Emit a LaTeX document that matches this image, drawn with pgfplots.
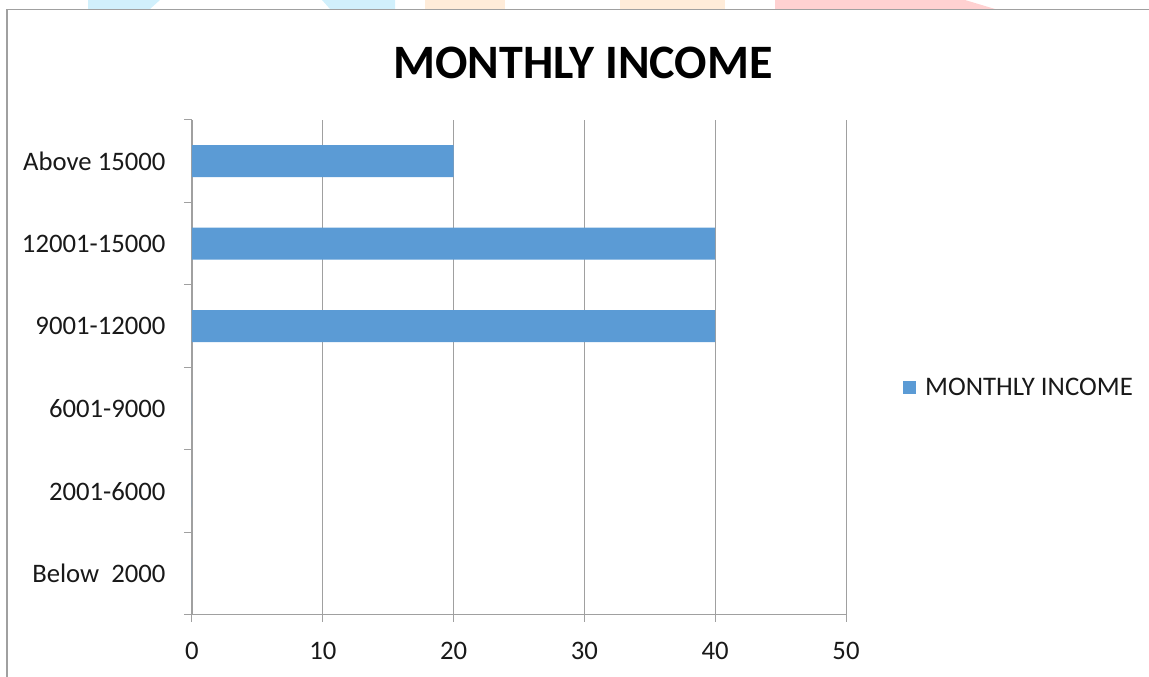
\documentclass[border=0pt]{standalone}
\usepackage{fontspec}
\setmainfont{Carlito}
\usepackage{pgfplots}
\pgfplotsset{compat=1.18}
\definecolor{barblue}{HTML}{5B9BD5}
\definecolor{axgray}{HTML}{A0A0A0}
\begin{document}
\begin{tikzpicture}[x=1pt,y=1pt]
\useasboundingbox (0,0) rectangle (1149,677);
% faint decorative shapes above the frame
\fill[cyan!18] (88,668) -- (150,668) -- (160,677) -- (88,677) -- cycle;
\fill[cyan!18] (330,668) -- (395,668) -- (395,677) -- (322,677) -- cycle;
\fill[orange!15] (425,668) -- (505,668) -- (505,677) -- (425,677) -- cycle;
\fill[orange!15] (620,668) -- (725,668) -- (725,677) -- (620,677) -- cycle;
\fill[red!18] (775,668) -- (995,668) -- (965,677) -- (775,677) -- cycle;
% chart frame
\draw[axgray, line width=1.6pt] (7,0) -- (7,667.5) -- (1149,667.5);
% title
\node[font=\fontsize{48}{56}\selectfont\bfseries] at (583,614) {MONTHLY INCOME};
\begin{axis}[
  at={(192pt,62pt)}, anchor=south west,
  scale only axis, width=654pt, height=495pt,
  xbar, bar width=32pt,
  xmin=0, xmax=50, ymin=-0.5, ymax=5.5,
  xtick={0,10,...,50},
  ytick={0,1,2,3,4,5},
  yticklabels={Below~~2000,2001-6000,6001-9000,9001-12000,12001-15000,Above 15000},
  minor ytick={-0.5,0.5,...,5.5},
  axis x line*=bottom, axis y line*=left,
  axis line style={axgray, line width=1pt, -},
  xmajorgrids, grid style={axgray, line width=0.8pt},
  major x tick style={axgray, line width=1pt},
  major y tick style={draw=none},
  minor y tick style={axgray, line width=1pt},
  tick align=outside,
  major tick length=7pt, minor tick length=8pt,
  tick label style={font=\fontsize{26.7}{32}\selectfont, text=black!90},
  xticklabel style={yshift=-17pt},
  yticklabel style={xshift=-16pt},
  /pgf/number format/assume math mode=true,
  legend style={at={(1.087,0.46)}, anchor=west, draw=none, fill=none,
    font=\fontsize{26.8}{32}\selectfont, text=black!90,
    legend cell align=left, inner sep=0pt,
    /tikz/every odd column/.append style={column sep=7pt}},
  legend image code/.code={\fill[barblue] (0pt,-6.5pt) rectangle (13pt,6.5pt);},
]
\addplot[fill=barblue, draw=none] coordinates {(0,0) (0,1) (0,2) (40,3) (40,4) (20,5)};
\addlegendentry{MONTHLY INCOME}
\end{axis}
\end{tikzpicture}
\end{document}
